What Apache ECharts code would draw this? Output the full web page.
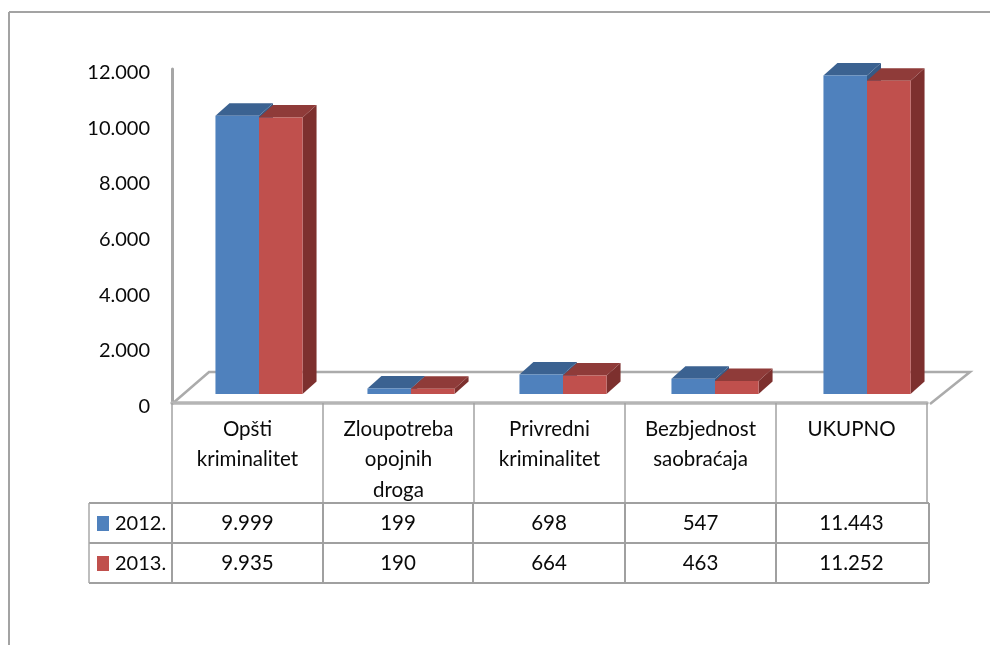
<!DOCTYPE html>
<html>
<head>
<meta charset="utf-8">
<style>html,body{margin:0;padding:0;background:#fff}#c{width:990px;height:645px}</style>
<script src="https://cdn.jsdelivr.net/npm/echarts@6/dist/echarts.min.js"></script>
</head>
<body>
<div id="c"></div>
<script>
var categories = ['Opšti\nkriminalitet', 'Zloupotreba\nopojnih\ndroga', 'Privredni\nkriminalitet', 'Bezbjednost\nsaobraćaja', 'UKUPNO'];
var seriesNames = ['2012.', '2013.'];
var values2012 = [9999, 199, 698, 547, 11443];
var values2013 = [9935, 190, 664, 463, 11252];

var FONT = 'Lato, "Open Sans", sans-serif';
var GREY = '#a3a3a3';
var INK = '#0a0a0a';
var fmt = function (v) { return String(v).replace(/\B(?=(\d{3})+$)/g, '.'); };

var palette = [
  { front: '#4f81bd', top: '#3b6291', side: '#365a86' },
  { front: '#c0504d', top: '#8f3b39', side: '#7d302e' }
];
var DX = 14, DY = -12.5;

function barRenderer(sign, pal) {
  return function (params, api) {
    var p = api.coord([api.value(0), api.value(1)]);
    var b = api.coord([api.value(0), 0]);
    var w = api.size([1, 0])[0] * 0.2865;
    var x0 = p[0] + (sign < 0 ? -w : 0), x1 = x0 + w;
    var yt = p[1], yb = b[1];
    return {
      type: 'group',
      children: [
        { type: 'polygon', shape: { points: [[x1, yt], [x1 + DX, yt + DY], [x1 + DX, yb + DY], [x1, yb]] }, style: { fill: pal.side } },
        { type: 'polygon', shape: { points: [[x0, yt], [x0 + DX, yt + DY], [x1 + DX, yt + DY], [x1, yt]] }, style: { fill: pal.top } },
        { type: 'rect', shape: { x: x0, y: yt, width: w, height: yb - yt }, style: { fill: pal.front } }
      ]
    };
  };
}

// table geometry
var colX = [172, 323, 473, 625, 776, 927];
var rowY = [503, 543, 583];
var tableLeft = 89, tableRight = 929;
var g = [];
function line(x1, y1, x2, y2, w, c) {
  g.push({ type: 'line', z: 1, shape: { x1: x1, y1: y1, x2: x2, y2: y2 }, style: { stroke: c || GREY, lineWidth: w } });
}
// frame
line(9, 12, 990, 12, 2);
line(9, 12, 9, 645, 2);
// floor
g.push({ type: 'polyline', z: 0, shape: { points: [[172, 404], [209, 372], [970, 372], [930, 404]] }, style: { stroke: '#ababab', lineWidth: 2.5, fill: 'none' } });
// table rows
rowY.forEach(function (y) { line(tableLeft, y, tableRight, y, 2, '#a0a0a0'); });
line(tableLeft, rowY[0], tableLeft, rowY[2], 1.5, '#a8a8a8');
colX.forEach(function (x, i) { line(i === 5 ? 929 : x, rowY[0], i === 5 ? 929 : x, rowY[2], 2, '#a0a0a0'); });

[values2012, values2013].forEach(function (vals, r) {
  var cy = (rowY[r] + rowY[r + 1]) / 2 + 0.5;
  g.push({ type: 'rect', z: 2, shape: { x: 97, y: cy - 7.5, width: 12, height: 15 }, style: { fill: palette[r].front } });
  g.push({ type: 'text', z: 2, style: { x: 115, y: cy, text: seriesNames[r], font: '20px ' + FONT, fill: INK, textAlign: 'left', textVerticalAlign: 'middle' } });
  vals.forEach(function (v, i) {
    g.push({ type: 'text', z: 2, style: { x: (colX[i] + colX[i + 1]) / 2, y: cy, text: fmt(v), font: '20.5px ' + FONT, fill: INK, textAlign: 'center', textVerticalAlign: 'middle' } });
  });
});

var option = {
  backgroundColor: '#fff',
  animation: false,
  graphic: { elements: g },
  grid: [
    { left: 172, top: 69, width: 755, height: 334 },
    { left: 183, top: 60, width: 760, height: 334 }
  ],
  xAxis: [
    {
      type: 'category', gridIndex: 0, data: categories,
      axisLine: { show: true, lineStyle: { color: '#b5b5b5', width: 3.5 } },
      axisTick: { show: true, length: 100, lineStyle: { color: GREY, width: 1.5 } },
      axisLabel: { interval: 0, margin: 11, fontFamily: FONT, fontSize: 20.5, lineHeight: 30.5, color: INK, verticalAlign: 'top' }
    },
    { type: 'category', gridIndex: 1, data: categories, show: false }
  ],
  yAxis: [
    {
      type: 'value', gridIndex: 0, min: 0, max: 12000, interval: 2000,
      axisLine: { show: true, lineStyle: { color: '#a6a6a6', width: 3 } },
      axisTick: { show: false }, splitLine: { show: false },
      axisLabel: { margin: 22, fontFamily: FONT, fontSize: 20, color: INK, verticalAlign: 'top', lineHeight: 7, formatter: fmt }
    },
    { type: 'value', gridIndex: 1, min: 0, max: 12000, interval: 2000, show: false, splitLine: { show: false } }
  ],
  series: [
    { name: seriesNames[0], type: 'custom', xAxisIndex: 1, yAxisIndex: 1, z: 3, clip: false, encode: { x: 0, y: 1 },
      data: values2012.map(function (v, i) { return [i, v]; }), renderItem: barRenderer(-1, palette[0]) },
    { name: seriesNames[1], type: 'custom', xAxisIndex: 1, yAxisIndex: 1, z: 4, clip: false, encode: { x: 0, y: 1 },
      data: values2013.map(function (v, i) { return [i, v]; }), renderItem: barRenderer(1, palette[1]) }
  ]
};
echarts.init(document.getElementById('c')).setOption(option);
</script>
</body>
</html>
